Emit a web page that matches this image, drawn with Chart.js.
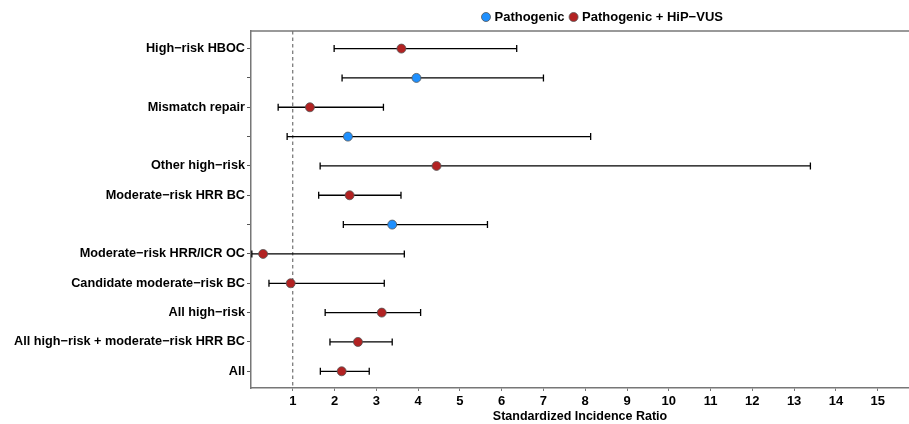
<!DOCTYPE html>
<html>
<head>
<meta charset="utf-8">
<script src="https://cdn.jsdelivr.net/npm/chart.js@4.4.0/dist/chart.umd.min.js"></script>
<style>
html,body{margin:0;padding:0;background:#fff;overflow:hidden;}
#wrap{width:909px;height:424px;}
canvas{display:block;}
</style>
</head>
<body>
<div id="wrap"><canvas id="c" width="909" height="424"></canvas></div>
<script>
// Row labels, top to bottom (blank rows are the Pathogenic-only estimates)
const rowLabels = [
  "High\u2212risk HBOC",
  "",
  "Mismatch repair",
  "",
  "Other high\u2212risk",
  "Moderate\u2212risk HRR BC",
  "",
  "Moderate\u2212risk HRR/ICR OC",
  "Candidate moderate\u2212risk BC",
  "All high\u2212risk",
  "All high\u2212risk + moderate\u2212risk HRR BC",
  "All"
];
// Series per row: "P" = Pathogenic, "H" = Pathogenic + HiP-VUS
const rowSeries = ["H","P","H","P","H","H","P","H","H","H","H","H"];
const sirValues = [3.60, 3.96, 1.41, 2.32, 4.44, 2.36, 3.38, 0.29, 0.95, 3.13, 2.56, 2.17];
const ciLower   = [1.99, 2.18, 0.65, 0.865, 1.655, 1.62, 2.21, 0.02, 0.43, 1.775, 1.89, 1.66];
const ciUpper   = [6.36, 7.00, 3.17, 8.13, 13.39, 3.59, 5.66, 3.67, 3.19, 4.06, 3.38, 2.83];
const xTicks = [1,2,3,4,5,6,7,8,9,10,11,12,13,14,15];
const referenceSIR = 1;
const seriesNames = ["Pathogenic", "Pathogenic + HiP\u2212VUS"];
const seriesColors = ["#1E90FF", "#B22222"];

const nRows = rowLabels.length;
const rowY = i => nRows - i; // top row gets highest y

function pointsFor(code){
  const out = [];
  for (let i=0;i<nRows;i++){
    if (rowSeries[i]===code) out.push({x:sirValues[i], y:rowY(i)});
  }
  return out;
}

const FONT = "'Liberation Sans', Arial, Helvetica, sans-serif";

const forestPlugin = {
  id:'forest',
  beforeDatasetsDraw(chart){
    const {ctx, chartArea, scales:{x,y}} = chart;
    ctx.save();
    const rx = x.getPixelForValue(referenceSIR);
    ctx.strokeStyle = '#555';
    ctx.lineWidth = 1;
    ctx.setLineDash([3.5,3]);
    ctx.beginPath();
    ctx.moveTo(rx, chartArea.top);
    ctx.lineTo(rx, chartArea.bottom);
    ctx.stroke();
    ctx.setLineDash([]);
    ctx.strokeStyle = '#000';
    ctx.lineWidth = 1.3;
    for (let i=0;i<nRows;i++){
      const py = y.getPixelForValue(rowY(i));
      const x0 = x.getPixelForValue(ciLower[i]);
      const x1 = x.getPixelForValue(ciUpper[i]);
      ctx.beginPath();
      ctx.moveTo(x0, py); ctx.lineTo(x1, py);
      ctx.moveTo(x0, py-3.5); ctx.lineTo(x0, py+3.5);
      ctx.moveTo(x1, py-3.5); ctx.lineTo(x1, py+3.5);
      ctx.stroke();
    }
    ctx.restore();
  },
  afterDraw(chart){
    const {ctx, chartArea} = chart;
    ctx.save();
    ctx.strokeStyle = '#777';
    ctx.lineWidth = 1.5;
    ctx.beginPath();
    ctx.moveTo(chartArea.left, chartArea.top);
    ctx.lineTo(chartArea.right, chartArea.top);
    ctx.stroke();
    ctx.font = "bold 13px " + FONT;
    ctx.textBaseline = 'middle';
    const ly = 17;
    let lx = 486;
    for (let s=0;s<2;s++){
      ctx.beginPath();
      ctx.arc(lx, ly, 4.5, 0, Math.PI*2);
      ctx.fillStyle = seriesColors[s];
      ctx.fill();
      ctx.strokeStyle = '#555';
      ctx.lineWidth = 0.8;
      ctx.stroke();
      ctx.fillStyle = '#000';
      ctx.textAlign = 'left';
      ctx.fillText(seriesNames[s], lx+8.5, ly);
      lx += 8.5 + ctx.measureText(seriesNames[s]).width + 9;
    }
    ctx.restore();
  }
};

const mkDs = (code, idx) => ({
  label: seriesNames[idx],
  data: pointsFor(code),
  backgroundColor: seriesColors[idx],
  borderColor: '#555',
  borderWidth: 0.8,
  pointRadius: 4.5,
  pointHoverRadius: 4.5,
  showLine: false
});

new Chart(document.getElementById('c'), {
  type: 'scatter',
  data: { datasets: [ mkDs("P",0), mkDs("H",1) ] },
  options: {
    responsive: false,
    animation: false,
    devicePixelRatio: 1,
    layout: { autoPadding: false, padding: { top: 31, right: 0, bottom: 0, left: 0 } },
    plugins: { legend: { display: false }, tooltip: { enabled: false } },
    scales: {
      x: {
        type: 'linear',
        min: 0, max: 15.75,
        afterBuildTicks: s => { s.ticks = xTicks.map(v => ({value:v})); },
        afterFit: s => { s.height = 36; },
        grid: { drawOnChartArea: false, drawTicks: true, tickLength: 3, color: '#777' },
        border: { display: true, color: '#777', width: 1.5 },
        ticks: { color: '#000', font: { family: FONT, weight: 'bold', size: 13 }, padding: 3, maxRotation: 0, autoSkip: false },
        title: { display: true, text: 'Standardized Incidence Ratio', color: '#000', font: { family: FONT, weight: 'bold', size: 12.5 }, padding: { top: 3, bottom: 0 } }
      },
      y: {
        type: 'linear',
        min: 0.43, max: 12.6,
        afterBuildTicks: s => { s.ticks = rowLabels.map((_,i) => ({value: rowY(i)})); },
        afterFit: s => { s.width = 251; },
        grid: { drawOnChartArea: false, drawTicks: true, tickLength: 4, color: '#555' },
        border: { display: true, color: '#777', width: 1.5 },
        ticks: {
          color: '#000', font: { family: FONT, weight: 'bold', size: 12.7 }, padding: 2, autoSkip: false,
          callback: v => { const i = nRows - v; return rowLabels[i] !== undefined ? rowLabels[i] : ''; }
        }
      }
    }
  },
  plugins: [forestPlugin]
});
</script>
</body>
</html>
